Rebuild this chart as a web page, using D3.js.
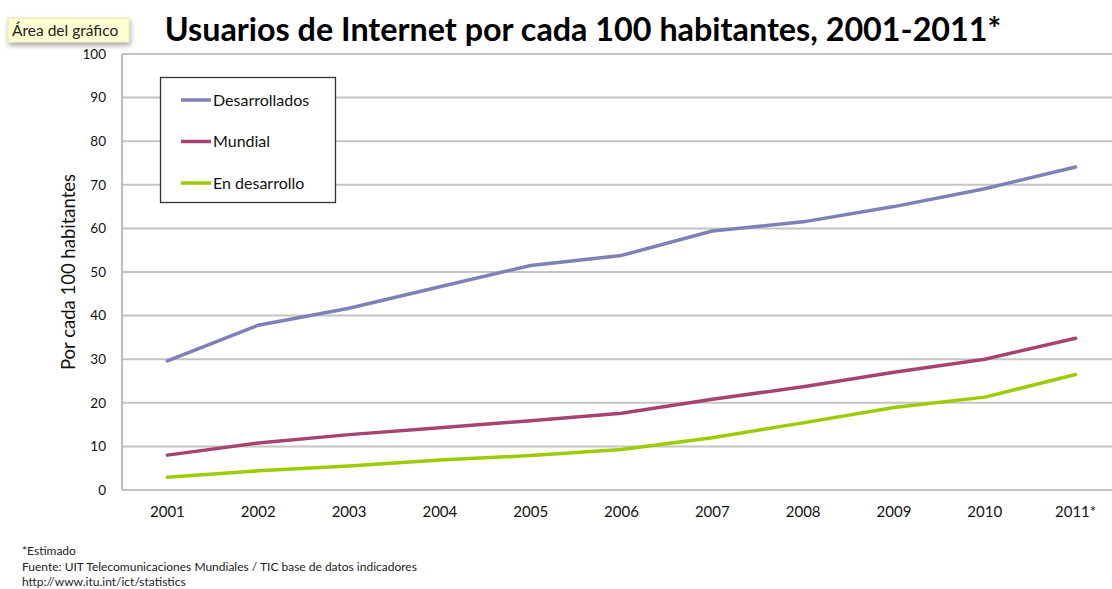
<!DOCTYPE html>
<html>
<head>
<meta charset="utf-8">
<script src="https://cdn.jsdelivr.net/npm/d3@7"></script>
<style>
  html, body { margin: 0; padding: 0; background: #fff; }
  svg { display: block; }
</style>
</head>
<body>
<svg id="chart" width="1112" height="589"></svg>
<script>
// Years on the horizontal axis
const years = ["2001", "2002", "2003", "2004", "2005", "2006", "2007", "2008", "2009", "2010", "2011*"];

// Internet users per 100 inhabitants
const desarrollados = [29.6, 37.8, 41.7, 46.6, 51.5, 53.8, 59.4, 61.5, 65.0, 69.1, 74.1];
const mundial       = [8.0, 10.8, 12.7, 14.3, 15.9, 17.6, 20.8, 23.7, 27.0, 30.0, 34.8];
const enDesarrollo  = [2.9, 4.4, 5.5, 6.9, 7.9, 9.3, 12.0, 15.4, 18.9, 21.3, 26.5];

const yTicks = [0, 10, 20, 30, 40, 50, 60, 70, 80, 90, 100];

const series = [
  { name: "Desarrollados", values: desarrollados, color: "#8080b8" },
  { name: "Mundial",       values: mundial,       color: "#a6446f" },
  { name: "En desarrollo", values: enDesarrollo,  color: "#9ccc00" }
];

const svg = d3.select("#chart");
const font = "Lato, 'Open Sans', sans-serif";

const plot = { left: 122, right: 1121, top: 54, bottom: 490 };

const x = d3.scaleBand().domain(years).range([plot.left, plot.right]);
const y = d3.scaleLinear().domain([0, 100]).range([plot.bottom, plot.top]);

// Horizontal gridlines
svg.append("g")
  .selectAll("line")
  .data(yTicks)
  .join("line")
  .attr("x1", plot.left)
  .attr("x2", plot.right)
  .attr("y1", d => y(d))
  .attr("y2", d => y(d))
  .attr("stroke", "#c4c4c4")
  .attr("stroke-width", 2);

// Left edge of the plot area
svg.append("line")
  .attr("x1", plot.left).attr("x2", plot.left)
  .attr("y1", plot.top).attr("y2", plot.bottom)
  .attr("stroke", "#bdbdbd")
  .attr("stroke-width", 2);

// Y axis labels
const yAxis = d3.axisLeft(y).tickValues(yTicks).tickSize(0).tickPadding(16);
const gy = svg.append("g").attr("transform", `translate(${plot.left},0)`).call(yAxis);
gy.select(".domain").remove();
gy.selectAll("text")
  .attr("font-family", font)
  .attr("font-size", 13.5)
  .attr("fill", "#111");

// X axis labels
const xAxis = d3.axisBottom(x).tickSize(0).tickPadding(16);
const gx = svg.append("g").attr("transform", `translate(0,${plot.bottom})`).call(xAxis);
gx.select(".domain").remove();
gx.selectAll("text")
  .attr("font-family", font)
  .attr("font-size", 15)
  .attr("fill", "#111");

// Series lines
const line = d3.line()
  .x((d, i) => x(years[i]) + x.bandwidth() / 2)
  .y(d => y(d));

svg.append("g")
  .selectAll("path")
  .data(series)
  .join("path")
  .attr("d", d => line(d.values))
  .attr("fill", "none")
  .attr("stroke", d => d.color)
  .attr("stroke-width", 3.5)
  .attr("stroke-linejoin", "round")
  .attr("stroke-linecap", "round");

// Legend
const legend = svg.append("g");
legend.append("rect")
  .attr("x", 160.5).attr("y", 77.5)
  .attr("width", 175).attr("height", 125)
  .attr("fill", "#fff")
  .attr("stroke", "#333")
  .attr("stroke-width", 1.3);

const items = legend.selectAll("g.item")
  .data(series)
  .join("g")
  .attr("class", "item")
  .attr("transform", (d, i) => `translate(181,${100 + i * 41.5})`);
items.append("line")
  .attr("x1", 0).attr("x2", 30)
  .attr("stroke", d => d.color)
  .attr("stroke-width", 3.5);
items.append("text")
  .attr("x", 32)
  .attr("dy", "0.35em")
  .attr("font-family", font)
  .attr("font-size", 16)
  .attr("fill", "#111")
  .text(d => d.name);

// Y axis title
svg.append("text")
  .attr("transform", "translate(75,272) rotate(-90)")
  .attr("text-anchor", "middle")
  .attr("font-family", font)
  .attr("font-size", 18.5)
  .attr("fill", "#111")
  .text("Por cada 100 habitantes");

// Title
svg.append("text")
  .attr("x", 583)
  .attr("y", 41)
  .attr("text-anchor", "middle")
  .attr("font-family", font)
  .attr("font-weight", "bold")
  .attr("font-size", 32.3)
  .attr("fill", "#000")
  .text("Usuarios de Internet por cada 100 habitantes, 2001-2011*");

// Chart area tooltip label
const defs = svg.append("defs");
const shadow = defs.append("filter").attr("id", "shadow").attr("x", "-20%").attr("y", "-30%").attr("width", "150%").attr("height", "190%");
shadow.append("feDropShadow")
  .attr("dx", 1).attr("dy", 3).attr("stdDeviation", 2.5)
  .attr("flood-color", "#000").attr("flood-opacity", 0.35);
svg.append("rect")
  .attr("x", 8).attr("y", 18)
  .attr("width", 121).attr("height", 24)
  .attr("fill", "#ffffd2")
  .attr("stroke", "#e6e6b0")
  .attr("filter", "url(#shadow)");
svg.append("text")
  .attr("x", 12).attr("y", 35.5)
  .attr("font-family", font)
  .attr("font-size", 15.5)
  .attr("fill", "#222")
  .text("Área del gráfico");

// Footnotes
const notes = ["*Estimado",
  "Fuente: UIT Telecomunicaciones Mundiales / TIC base de datos indicadores",
  "http://www.itu.int/ict/statistics"];
svg.append("g")
  .selectAll("text")
  .data(notes)
  .join("text")
  .attr("x", 22)
  .attr("y", (d, i) => 555 + i * 15.5)
  .attr("font-family", font)
  .attr("font-size", 12)
  .attr("fill", "#222")
  .text(d => d);
</script>
</body>
</html>
